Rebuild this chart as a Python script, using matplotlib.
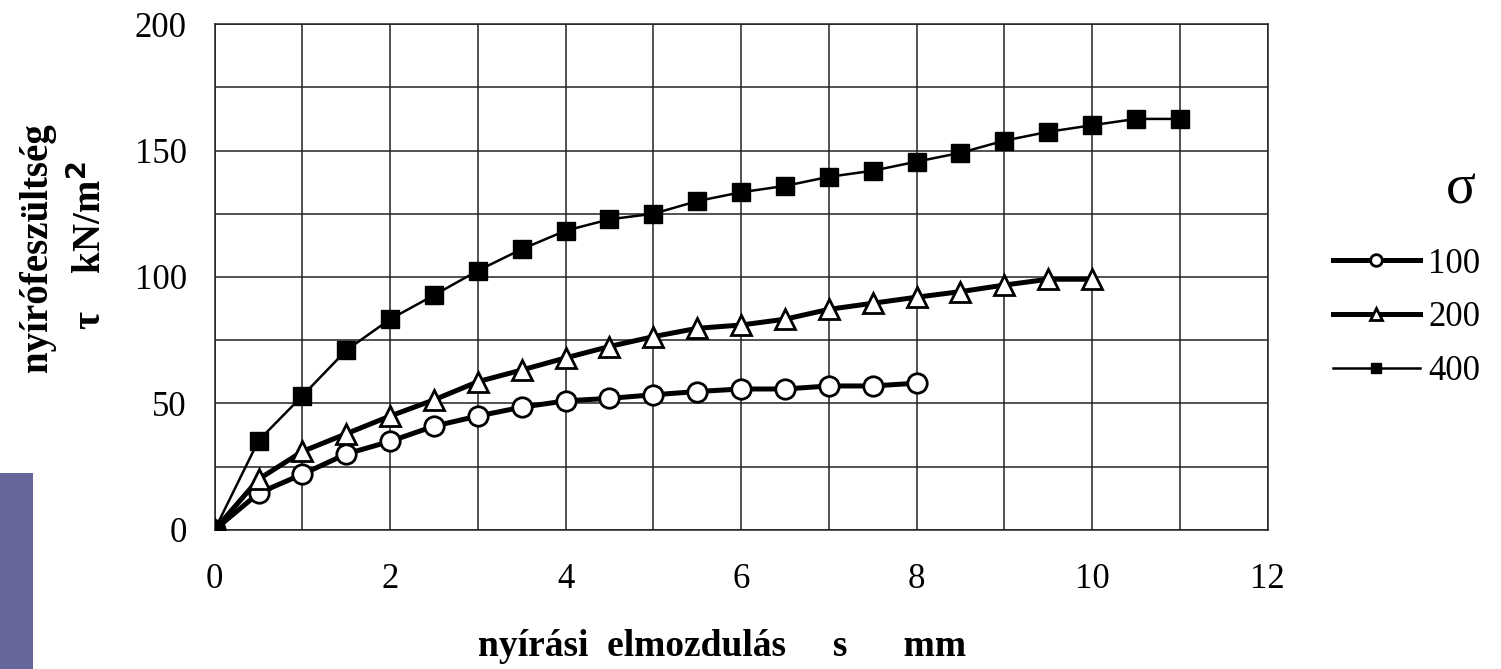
import matplotlib
matplotlib.use("Agg")
import matplotlib.pyplot as plt
from matplotlib.patches import Rectangle

plt.rcParams['font.family'] = ['Liberation Serif', 'DejaVu Serif']

# elmozdulas (mm) es nyirofeszultseg (kN/m2) harom normalfeszultsegre
s_100 = [0, 0.5, 1, 1.5, 2, 2.5, 3, 3.5, 4, 4.5, 5, 5.5, 6, 6.5, 7, 7.5, 8]
tau_100 = [0, 14.5, 22, 30, 35, 41, 45, 48.5, 51, 52, 53.4, 54.7, 55.7, 55.7, 56.9, 56.9, 58]

s_200 = [0, 0.5, 1, 1.5, 2, 2.5, 3, 3.5, 4, 4.5, 5, 5.5, 6, 6.5, 7, 7.5, 8, 8.5, 9, 9.5, 10]
tau_200 = [0, 20, 31, 38, 45, 51.4, 58.6, 63.2, 68, 72.5, 76.4, 79.7, 81, 83.3, 87.2, 89.6, 92,
           94.2, 96.8, 99.1, 99.1]

s_400 = [0, 0.5, 1, 1.5, 2, 2.5, 3, 3.5, 4, 4.5, 5, 5.5, 6, 6.5, 7, 7.5, 8, 8.5, 9, 9.5, 10,
         10.5, 11]
tau_400 = [0, 35.3, 53, 71, 83.3, 92.8, 102.5, 111, 118.3, 122.8, 125, 130, 133.5, 136, 139.6,
           142, 145.6, 149.1, 153.9, 157.4, 160, 162.5, 162.5]

sigma_labels = ['100', '200', '400']

fig = plt.figure(figsize=(15.01, 6.69), dpi=100)
ax = fig.add_axes([0.143, 0.208, 0.7015, 0.756])

l1, = ax.plot(s_100, tau_100, color='black', lw=3.6, marker='o', ms=14,
              mfc='white', mec='black', mew=2, zorder=3)
l2, = ax.plot(s_200, tau_200, color='black', lw=3.6, marker='^', ms=15,
              mfc='white', mec='black', mew=2, zorder=3)
l3, = ax.plot(s_400, tau_400, color='black', lw=1.8, marker='s', ms=13,
              mfc='black', mec='black', mew=1, zorder=4)

ax.set_xlim(0, 12)
ax.set_ylim(0, 200)
ax.set_xticks(range(0, 13, 2))
ax.set_yticks(range(0, 201, 50))
ax.set_xticks(range(0, 13, 1), minor=True)
ax.set_yticks(range(0, 201, 25), minor=True)
ax.grid(which='both', color='#222222', lw=1.1)
ax.set_axisbelow(True)
for sp in ax.spines.values():
    sp.set_color('#222222')
    sp.set_linewidth(1.1)
ax.tick_params(which='both', length=0, labelsize=25)
ax.tick_params(axis='x', pad=24)
ax.tick_params(axis='y', pad=20)

fig.text(0.481, 0.033, 'nyírási  elmozdulás     s      mm', fontsize=27,
         fontweight='bold', ha='center', va='center')
fig.text(0.025, 0.63, 'nyírófeszültség', fontsize=28, fontweight='bold',
         rotation=90, ha='center', va='center')
fig.text(0.060, 0.632, r'τ    kN/m$^\mathbf{2}$', fontsize=28, fontweight='bold',
         rotation=90, ha='center', va='center')

# legenda
fig.text(0.973, 0.716, 'σ', fontsize=40, ha='center', va='center')
ax.legend([l1, l2, l3], sigma_labels, loc='upper left',
          bbox_to_anchor=(0.888, 0.63), bbox_transform=fig.transFigure,
          frameon=False, fontsize=25, handlelength=2.5, handletextpad=0.25,
          labelspacing=0.6, borderpad=0, borderaxespad=0, markerscale=0.6)

fig.patches.append(Rectangle((0, 0), 0.022, 0.293, transform=fig.transFigure,
                             facecolor='#66669a', edgecolor='none'))

fig.savefig('out.png', dpi=100)
